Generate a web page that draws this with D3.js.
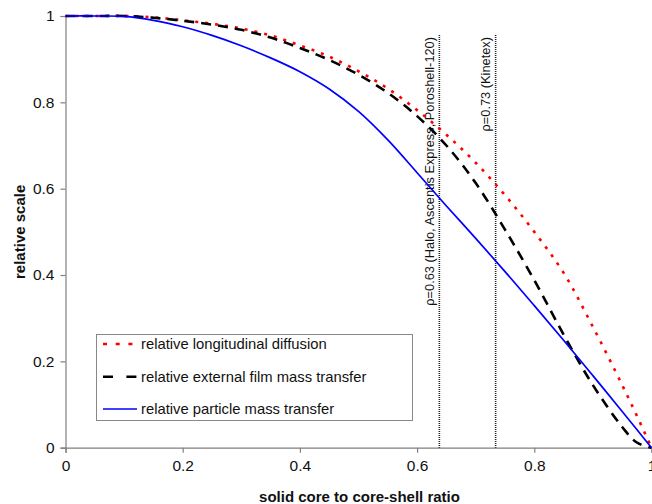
<!DOCTYPE html>
<html>
<head>
<meta charset="utf-8">
<script src="https://cdn.jsdelivr.net/npm/d3@7"></script>
<style>
  html, body { margin: 0; padding: 0; background: #fff; }
  svg { display: block; font-family: "Liberation Sans", Arial, sans-serif; }
</style>
</head>
<body>
<svg id="chart" width="652" height="504"></svg>
<script>
// ---- data ----
const ratio = [0, 0.05, 0.1, 0.15, 0.2, 0.25, 0.3, 0.35, 0.4, 0.45, 0.5, 0.55, 0.6, 0.65, 0.7, 0.75, 0.8, 0.85, 0.9, 0.95, 0.975, 1.0];
const longitudinal = [1, 1, 1, 0.997, 0.99, 0.982, 0.971, 0.955, 0.932, 0.906, 0.872, 0.832, 0.782, 0.725, 0.66, 0.585, 0.5, 0.405, 0.28, 0.145, 0.074, 0];
const filmTransfer = [1, 1, 1, 0.996, 0.989, 0.98, 0.968, 0.95, 0.926, 0.898, 0.864, 0.822, 0.768, 0.7, 0.613, 0.505, 0.388, 0.262, 0.145, 0.048, 0.012, 0];
const particleTransfer = [1, 1, 0.999, 0.99, 0.975, 0.955, 0.931, 0.903, 0.871, 0.831, 0.779, 0.713, 0.637, 0.56, 0.485, 0.408, 0.329, 0.249, 0.167, 0.084, 0.042, 0];
const seriesNames = ["relative longitudinal diffusion", "relative external film mass transfer", "relative particle mass transfer"];
const markerRatios = [0.638, 0.734];
const markerLabels = ["\u03c1=0.63 (Halo, Ascentis Express, Poroshell-120)", "\u03c1=0.73 (Kinetex)"];
const xTickValues = [0, 0.2, 0.4, 0.6, 0.8, 1];
const xTickLabels = ["0", "0.2", "0.4", "0.6", "0.8", "1"];
const yTickValues = [0, 0.2, 0.4, 0.6, 0.8, 1];
const yTickLabels = ["0", "0.2", "0.4", "0.6", "0.8", "1"];
const xTitle = "solid core to core-shell ratio";
const yTitle = "relative scale";

// ---- chart ----
const svg = d3.select("#chart");
const x = d3.scaleLinear().domain([0, 1]).range([65.5, 651.5]);
const y = d3.scaleLinear().domain([0, 1]).range([447.7, 16]);

const axisColor = "#808080";

// axes
const xAxis = d3.axisBottom(x).tickValues(xTickValues).tickFormat((d, i) => xTickLabels[i]).tickSizeOuter(0).tickSize(5).tickPadding(7);
const gx = svg.append("g").attr("transform", `translate(0,${y(0)})`).call(xAxis);
const yAxis = d3.axisLeft(y).tickValues(yTickValues).tickFormat((d, i) => yTickLabels[i]).tickSizeOuter(0).tickSize(5).tickPadding(6);
const gy = svg.append("g").attr("transform", `translate(${x(0)},0)`).call(yAxis);
[gx, gy].forEach(g => {
  g.select(".domain").attr("stroke", axisColor).attr("stroke-width", 1.2);
  g.selectAll(".tick line").attr("stroke", axisColor).attr("stroke-width", 1.2);
  g.selectAll(".tick text").attr("fill", "#111").style("font-size", "15.5px").style("font-family", "'Liberation Sans', Arial, sans-serif");
});

// axis titles
svg.append("text").attr("x", (x(0) + x(1)) / 2 + 1).attr("y", 502).attr("text-anchor", "middle")
  .style("font-size", "15px").style("font-weight", "bold").attr("fill", "#111").text(xTitle);
svg.append("text").attr("transform", `translate(24.5,${(y(0) + y(1)) / 2}) rotate(-90)`).attr("text-anchor", "middle")
  .style("font-size", "15px").style("font-weight", "bold").attr("fill", "#111").text(yTitle);

// vertical marker lines
markerRatios.forEach((r, i) => {
  svg.append("line").attr("x1", x(r)).attr("x2", x(r)).attr("y1", 35).attr("y2", y(0))
    .attr("stroke", "#222").attr("stroke-width", 1.6).attr("stroke-dasharray", "1,1");
  svg.append("text").attr("transform", `translate(${x(r) - 5.5},37) rotate(-90)`).attr("text-anchor", "end")
    .style("font-size", "12.8px").attr("fill", "#111").text(markerLabels[i]);
});

// curves
const line = d3.line().x((d, i) => x(ratio[i])).y(d => y(d)).curve(d3.curveCatmullRom.alpha(0.5));
const styles = [
  { data: longitudinal, color: "#ff0000", width: 2.6, dash: "3,7" },
  { data: filmTransfer, color: "#000000", width: 2.6, dash: "10,7" },
  { data: particleTransfer, color: "#0000ff", width: 1.7, dash: null }
];
styles.forEach(s => {
  svg.append("path").attr("d", line(s.data)).attr("fill", "none")
    .attr("stroke", s.color).attr("stroke-width", s.width)
    .attr("stroke-dasharray", s.dash);
});

// legend
const lg = svg.append("g");
lg.append("rect").attr("x", 96.5).attr("y", 334.5).attr("width", 316).attr("height", 86)
  .attr("fill", "#fff").attr("stroke", "#888").attr("stroke-width", 1);
const legendRows = [344, 376.7, 409];
const legendDash = ["4,8.7", "10,13.4", null];
styles.forEach((s, i) => {
  lg.append("line").attr("x1", 103).attr("x2", 137).attr("y1", legendRows[i]).attr("y2", legendRows[i])
    .attr("stroke", s.color).attr("stroke-width", i === 2 ? 1.7 : 2.4).attr("stroke-dasharray", legendDash[i]);
  lg.append("text").attr("x", 141).attr("y", legendRows[i]).attr("dy", "0.35em")
    .style("font-size", "14.8px").attr("fill", "#111").text(seriesNames[i]);
});
</script>
</body>
</html>
